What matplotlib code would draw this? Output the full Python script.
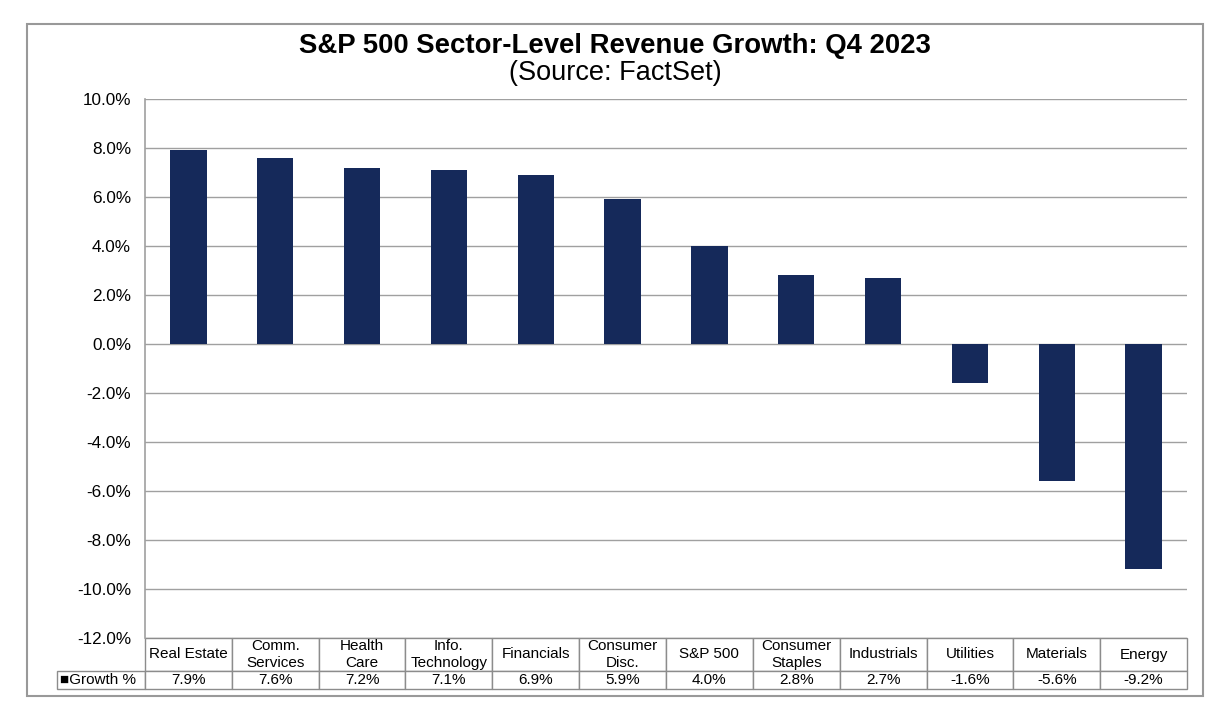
import matplotlib.pyplot as plt
from matplotlib.patches import Rectangle
from matplotlib.ticker import FuncFormatter

plt.rcParams['font.family'] = ['Liberation Sans', 'DejaVu Sans']

# sector labels as shown in the data table
sectors = ["Real Estate", "Comm.\nServices", "Health\nCare", "Info.\nTechnology",
           "Financials", "Consumer\nDisc.", "S&P 500", "Consumer\nStaples",
           "Industrials", "Utilities", "Materials", "Energy"]
# revenue growth, percent
growth = [7.9, 7.6, 7.2, 7.1, 6.9, 5.9, 4.0, 2.8, 2.7, -1.6, -5.6, -9.2]
series_name = "Growth %"

bar_color = "#15295a"
grid_color = "#a0a0a0"

W, H = 1215, 716
fig = plt.figure(figsize=(W / 100, H / 100), dpi=100)

# outer chart border
fig.patches.append(Rectangle((27 / W, 1 - 696 / H), (1203 - 27) / W, (696 - 24) / H,
                             transform=fig.transFigure, fill=False,
                             edgecolor="#999999", linewidth=1.5))

# plot area in pixels
x0, x1, ytop, ybot = 145, 1187, 99, 638
ax = fig.add_axes([x0 / W, 1 - ybot / H, (x1 - x0) / W, (ybot - ytop) / H])

xs = range(len(growth))
ax.bar(xs, growth, width=0.42, color=bar_color, zorder=3)
ax.set_xlim(-0.5, len(growth) - 0.5)
ax.set_ylim(-12, 10)
ax.set_yticks(range(-12, 11, 2))
ax.yaxis.set_major_formatter(FuncFormatter(lambda v, p: f"{v:.1f}%"))
ax.tick_params(axis='y', length=0, pad=10, labelsize=12.3)
ax.set_xticks([])
ax.grid(axis='y', color=grid_color, linewidth=1.0, zorder=0)
for s in ["top", "right", "bottom"]:
    ax.spines[s].set_visible(False)
ax.spines["left"].set_color(grid_color)
ax.spines["left"].set_linewidth(1.2)

# data table under the plot
tx0, tx1 = 57, 1187
t_top, t_bot = 638, 689
col_w = (x1 - x0) / len(sectors)
tbl = ax.table(cellText=[["\u25a0" + series_name] + [f"{g:.1f}%" for g in growth]],
               colLabels=[""] + sectors,
               colWidths=[x0 - tx0] + [col_w] * len(sectors),
               cellLoc='center',
               bbox=[(tx0 - x0) / (x1 - x0), -(t_bot - t_top) / (ybot - ytop),
                     (tx1 - tx0) / (x1 - x0), (t_bot - t_top) / (ybot - ytop)])
tbl.auto_set_font_size(False)
tbl.set_fontsize(11)
for (r, c), cell in tbl.get_celld().items():
    cell.set_edgecolor("#8c8c8c")
    cell.set_linewidth(1.0)
    cell.set_height(33 if r == 0 else 18)
    if r == 0 and c == 0:
        cell.visible_edges = ""
tbl[1, 0].get_text().set_ha('left')
tbl[1, 0]._loc = 'left'
tbl[1, 0].PAD = 0.03

fig.text(615 / W, 1 - 46 / H, "S&P 500 Sector-Level Revenue Growth: Q4 2023",
         ha='center', va='center', fontsize=19.8, fontweight='bold')
fig.text(615 / W, 1 - 73 / H, "(Source: FactSet)",
         ha='center', va='center', fontsize=19.5)

fig.savefig("out.png", dpi=100)
